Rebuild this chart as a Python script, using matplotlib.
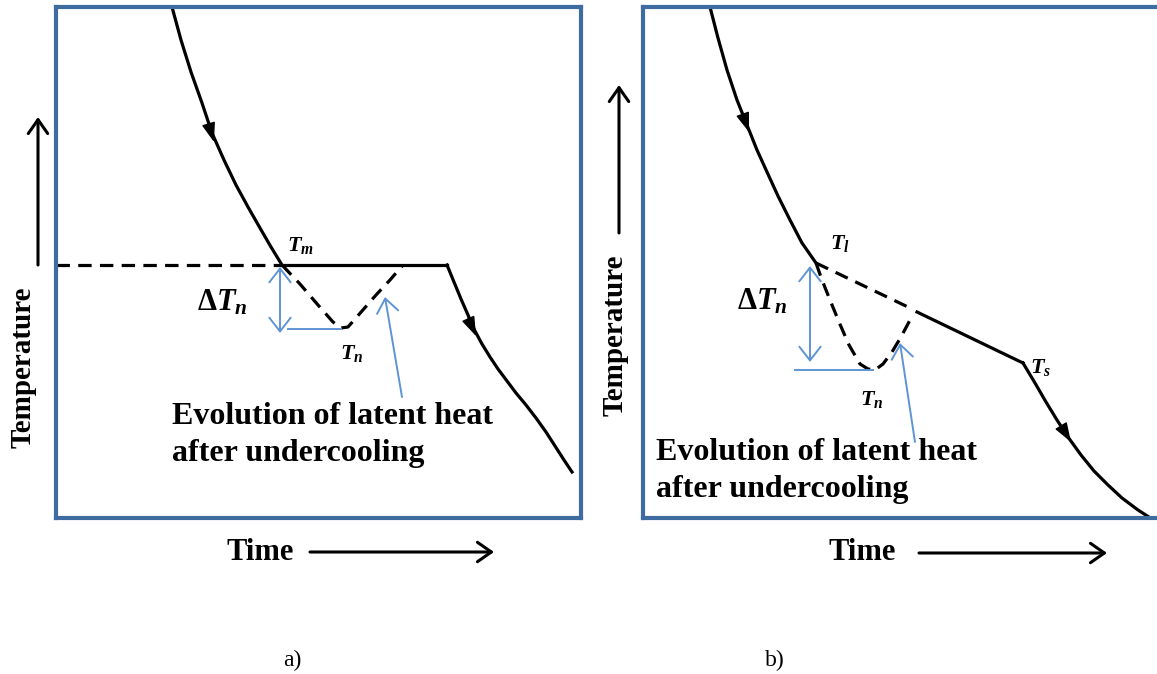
import matplotlib
matplotlib.use("Agg")
import matplotlib.pyplot as plt

# fonts: Times-like serif, bold italic symbols
plt.rcParams['font.family'] = ['Liberation Serif', 'DejaVu Serif']
plt.rcParams['mathtext.fontset'] = 'custom'
plt.rcParams['mathtext.rm'] = 'Liberation Serif:bold'
plt.rcParams['mathtext.bf'] = 'Liberation Serif:bold'
plt.rcParams['mathtext.it'] = 'Liberation Serif:italic:bold'

BOX_BLUE = '#3e6ba0'
NOTE_BLUE = '#5f94d4'

# ---- panel a) pure metal, values read in picture pixels ----
cool_a_x = [172, 181, 191, 202, 212, 224, 236, 248, 260, 271, 282]
cool_a_y = [7, 40, 72, 103, 133, 160, 185, 207, 228, 247, 265]
melt_dash_x = [56, 282]
melt_dash_y = [265, 265]
plateau_x = [282, 447]
plateau_y = [265, 265]
solid_a_x = [447, 454, 461, 468, 475, 482, 490, 498, 507, 516, 526, 536, 546, 555, 564, 572]
solid_a_y = [265, 282, 299, 315, 331, 344, 357, 369, 381, 393, 405, 418, 432, 446, 460, 472]
dip_a_x = [282, 300, 318, 333, 341, 348, 362, 376, 390, 403]
dip_a_y = [265, 284, 305, 322, 328, 327, 311, 295, 280, 265]
delta_a = [(280, 267), (280, 333)]
tn_line_a = [(288, 341), (329, 329)]
heat_arrow_a = [(402, 397), (385, 297)]
curve_arrows_a = [((208, 122), (214, 142)), ((468, 318), (476, 336))]

# ---- panel b) alloy ----
cool_b_x = [710, 718, 727, 737, 747, 757, 767, 778, 790, 802, 816]
cool_b_y = [7, 38, 70, 100, 125, 150, 172, 196, 220, 243, 263]
liq_dash_x = [816, 908]
liq_dash_y = [263, 307]
mushy_x = [917, 1023]
mushy_y = [312, 363]
solid_b_x = [1023, 1035, 1046, 1057, 1068, 1081, 1094, 1108, 1122, 1138, 1155]
solid_b_y = [363, 383, 402, 420, 437, 455, 471, 485, 498, 510, 521]
dip_b_x = [816, 822, 830, 839, 849, 860, 868, 875, 883, 892, 901, 910]
dip_b_y = [263, 280, 300, 322, 345, 364, 369, 370, 364, 352, 337, 320]
delta_b = [(810, 266), (810, 362)]
tn_line_b = [(795, 873), (370, 370)]
heat_arrow_b = [(915, 442), (900, 343)]
curve_arrows_b = [((742, 112), (749, 132)), ((1060, 424), (1071, 442))]

NOTE_TEXT = "Evolution of latent heat\nafter undercooling"

DASH = (0, (4.2, 2.6))


def make_panel(fig, left, right, top=7, bottom=518):
    """axes whose frame is the blue box, data in picture pixels"""
    W, H = 1157.0, 674.0
    ax = fig.add_axes([left / W, (H - bottom) / H, (right - left) / W, (bottom - top) / H])
    ax.set_xlim(left, right)
    ax.set_ylim(bottom, top)
    ax.set_xticks([])
    ax.set_yticks([])
    for spine in ax.spines.values():
        spine.set_color(BOX_BLUE)
        spine.set_linewidth(3)
    return ax


def arrow(ax, start, end, style, color, lw, scale):
    ax.annotate('', xy=end, xytext=start, annotation_clip=False,
                arrowprops=dict(arrowstyle=style, color=color, lw=lw,
                                mutation_scale=scale, shrinkA=0, shrinkB=0))


def curve_heads(ax, pairs):
    for start, end in pairs:
        arrow(ax, start, end, '-|>,head_length=0.8,head_width=0.28', 'k', 1, 15)


def axis_labels(ax, temp_xy, temp_arrow, time_xy, time_arrow):
    ax.text(temp_xy[0], temp_xy[1], 'Temperature', rotation=90, ha='center', va='center',
            fontsize=21, fontweight='bold', clip_on=False)
    arrow(ax, temp_arrow[0], temp_arrow[1], '->,head_length=0.5,head_width=0.35', 'k', 2.2, 20)
    ax.text(time_xy[0], time_xy[1], 'Time', ha='center', va='center',
            fontsize=22, fontweight='bold', clip_on=False)
    arrow(ax, time_arrow[0], time_arrow[1], '->,head_length=0.5,head_width=0.35', 'k', 2.2, 20)


fig = plt.figure(figsize=(11.57, 6.74), dpi=100)

# panel a
ax = make_panel(fig, 56, 581)
ax.plot(cool_a_x, cool_a_y, color='k', lw=2.3)
ax.plot(melt_dash_x, melt_dash_y, color='k', lw=2.3, linestyle=DASH)
ax.plot(plateau_x, plateau_y, color='k', lw=2.3)
ax.plot(solid_a_x, solid_a_y, color='k', lw=2.3)
ax.plot(dip_a_x, dip_a_y, color='k', lw=2.3, linestyle=DASH)
curve_heads(ax, curve_arrows_a)

arrow(ax, delta_a[0], delta_a[1], '<->,head_length=0.45,head_width=0.35', NOTE_BLUE, 1.4, 22)
ax.plot(tn_line_a[0], tn_line_a[1], color=NOTE_BLUE, lw=1.4)
arrow(ax, heat_arrow_a[0], heat_arrow_a[1], '->,head_length=0.45,head_width=0.35', NOTE_BLUE, 1.4, 22)

ax.text(300, 245, r'$T_m$', ha='center', va='center', fontsize=16)
ax.text(352, 353, r'$T_n$', ha='center', va='center', fontsize=16)
ax.text(222, 303, r'$\Delta T_n$', ha='center', va='center', fontsize=22)
ax.text(172, 435, NOTE_TEXT, ha='left', va='center', fontsize=23,
        fontweight='bold', linespacing=1.38)
axis_labels(ax, (23, 367), [(38, 265), (38, 117)], (260, 552), [(310, 552), (494, 552)])
ax.text(292, 660, 'a)', ha='center', va='center', fontsize=17, clip_on=False)

# panel b
ax = make_panel(fig, 643, 1163)
ax.plot(cool_b_x, cool_b_y, color='k', lw=2.3)
ax.plot(liq_dash_x, liq_dash_y, color='k', lw=2.3, linestyle=DASH)
ax.plot(mushy_x, mushy_y, color='k', lw=2.3)
ax.plot(solid_b_x, solid_b_y, color='k', lw=2.3)
ax.plot(dip_b_x, dip_b_y, color='k', lw=2.3, linestyle=DASH)
curve_heads(ax, curve_arrows_b)

arrow(ax, delta_b[0], delta_b[1], '<->,head_length=0.45,head_width=0.35', NOTE_BLUE, 1.4, 22)
ax.plot(tn_line_b[0], tn_line_b[1], color=NOTE_BLUE, lw=1.4)
arrow(ax, heat_arrow_b[0], heat_arrow_b[1], '->,head_length=0.45,head_width=0.35', NOTE_BLUE, 1.4, 22)

ax.text(840, 243, r'$T_l$', ha='center', va='center', fontsize=16)
ax.text(1041, 368, r'$T_s$', ha='center', va='center', fontsize=16)
ax.text(872, 400, r'$T_n$', ha='center', va='center', fontsize=16)
ax.text(762, 302, r'$\Delta T_n$', ha='center', va='center', fontsize=22)
ax.text(656, 471, NOTE_TEXT, ha='left', va='center', fontsize=23,
        fontweight='bold', linespacing=1.32)
axis_labels(ax, (615, 335), [(619, 233), (619, 85)], (862, 553), [(919, 553), (1107, 553)])
ax.text(775, 660, 'b)', ha='center', va='center', fontsize=17, clip_on=False)

fig.savefig('out.png', dpi=100, facecolor='white')
